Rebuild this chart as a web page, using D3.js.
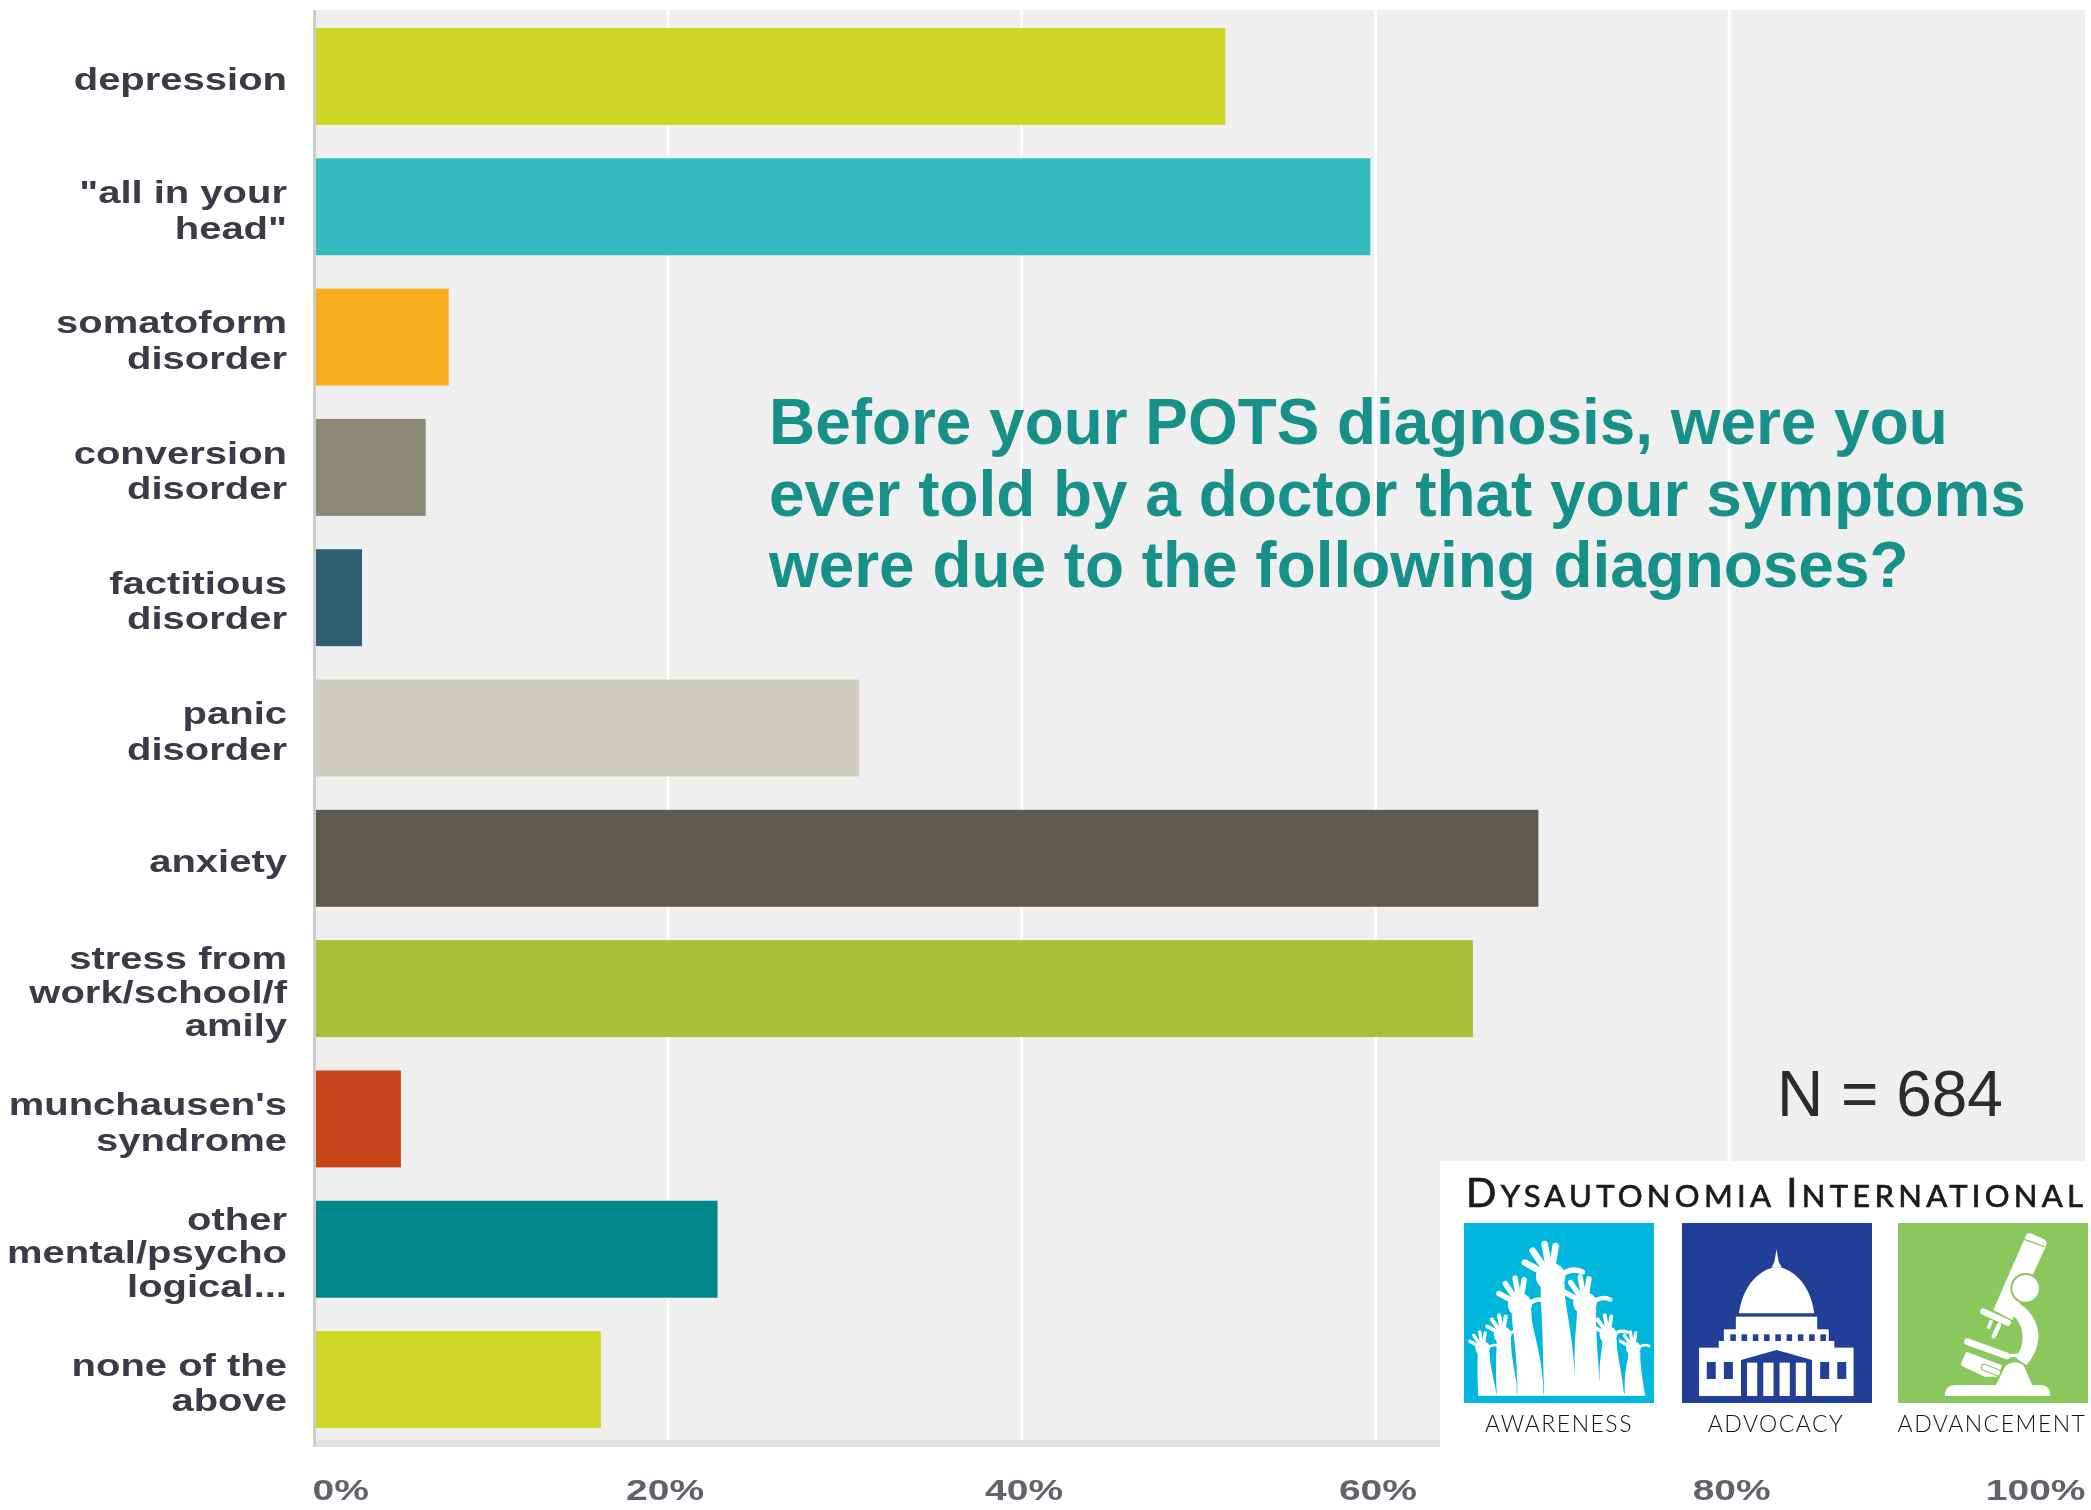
<!DOCTYPE html>
<html><head><meta charset="utf-8">
<script src="https://cdn.jsdelivr.net/npm/d3@7"></script>
<style>
html,body{margin:0;padding:0;background:#fff}
svg{display:block}
.soft{filter:blur(0.6px)}
</style></head><body>
<script>
const categories = ["depression","\"all in your\nhead\"","somatoform\ndisorder","conversion\ndisorder","factitious\ndisorder","panic\ndisorder","anxiety","stress from\nwork/school/f\namily","munchausen's\nsyndrome","other\nmental/psycho\nlogical...","none of the\nabove"];
const values = [51.4,59.6,7.5,6.2,2.6,30.7,69.1,65.4,4.8,22.7,16.1];
const colors = ["#cdd626","#33bcc0","#f6ae1c","#8b8a74","#2d5f70","#cfcdbd","#5d5b4a","#a9bf39","#c8451b","#00878a","#cfd626"];
const xTicks = [0,20,40,60,80,100];
const titleLines = ["Before your POTS diagnosis, were you","ever told by a doctor that your symptoms","were due to the following diagnoses?"];
const sampleNote = "N = 684";
const pillars = ["AWARENESS","ADVOCACY","ADVANCEMENT"];

const W=2091,H=1510;
const svg=d3.select("body").append("svg").attr("width",W).attr("height",H);
const x=d3.scaleLinear().domain([0,100]).range([316,2085]);
const y=d3.scaleBand().domain(categories).range([28,1428]).paddingInner(0.256);

// plot background
svg.append("rect").attr("x",314).attr("y",10).attr("width",W-314-6).attr("height",1430).attr("fill","#efefef");
svg.append("rect").attr("x",313).attr("y",1440).attr("width",W-313-6).attr("height",7).attr("fill","#e0e0e0");
svg.append("rect").attr("x",313).attr("y",10).attr("width",3).attr("height",1437).attr("fill","#cccccc");

// gridlines
svg.append("g").selectAll("line").data(xTicks.slice(1,5)).join("line")
  .attr("x1",d=>x(d)-2).attr("x2",d=>x(d)-2).attr("y1",10).attr("y2",1440)
  .attr("stroke","#fff").attr("stroke-width",3);

// bars
svg.append("g").selectAll("rect").data(values).join("rect")
  .attr("x",x(0)).attr("y",(d,i)=>y(categories[i]))
  .attr("width",d=>x(d)-x(0)).attr("height",y.bandwidth())
  .attr("fill",(d,i)=>colors[i]);

// category labels (glyphs stretched wide as in the source image)
const labelStretch=1.29;
const lab=svg.append("g").attr("class","soft").attr("font-family","'Liberation Sans',Arial,sans-serif")
  .attr("font-weight","700").attr("font-size",31).attr("fill","#3b3b48").attr("text-anchor","end")
  .attr("transform",`scale(${labelStretch},1)`);
categories.forEach(c=>{
  const lines=c.split("\n"),lh=lines.length===3?33.5:35.5;
  const cy=y(c)+y.bandwidth()/2+3;
  lines.forEach((l,i)=>lab.append("text").attr("x",287/labelStretch)
    .attr("y",cy+(i-(lines.length-1)/2)*lh+11).text(l));
});

// x axis
const tickStretch=1.3;
const ax=svg.append("g").attr("class","soft").attr("transform","translate(0,1447)")
  .call(d3.axisBottom(x).tickValues(xTicks).tickFormat(d=>d+"%").tickSize(0).tickPadding(32));
ax.select(".domain").remove();
ax.selectAll("text").attr("font-family","'Liberation Sans',Arial,sans-serif").attr("font-size",30)
  .attr("font-weight","700").attr("fill","#62626c").attr("transform",`scale(${tickStretch},1)`);
ax.selectAll("text").filter(d=>d===0).attr("text-anchor","start").attr("dx",-3);
ax.selectAll("text").filter(d=>d===100).attr("text-anchor","end").attr("dx",0);
ax.selectAll("text").filter(d=>d===20).attr("dx",-4);

// heading
svg.append("g").attr("font-family","'Liberation Sans',Arial,sans-serif").attr("font-weight","700")
  .attr("font-size",63.9).attr("fill","#17908a")
  .selectAll("text").data(titleLines).join("text")
  .attr("x",769).attr("y",(d,i)=>444+i*71.7).text(d=>d);

svg.append("text").attr("x",1777).attr("y",1116).attr("font-family","'Liberation Sans',Arial,sans-serif")
  .attr("font-size",64).attr("fill","#2b2b2b").text(sampleNote);

// logo
svg.append("rect").attr("x",1440).attr("y",1161).attr("width",651).attr("height",286).attr("fill","#fff");
const head=svg.append("text").attr("x",1466).attr("y",1207).attr("font-family","Lato,'Open Sans',sans-serif")
  .attr("fill","#1d1a1a").attr("stroke","#1d1a1a").attr("stroke-width",0.7)
  .attr("textLength",617).attr("lengthAdjust","spacing");
[["D",40],["YSAUTONOMIA ",31],["I",40],["NTERNATIONAL",31]].forEach(([t,s])=>head.append("tspan").attr("font-size",s).attr("xml:space","preserve").text(t));

svg.append("g").attr("font-family","Lato,'Open Sans',sans-serif").attr("font-size",23).attr("font-weight",300).attr("fill","#111")
  .attr("text-anchor","middle").selectAll("text").data(pillars).join("text")
  .attr("x",(d,i)=>[1559,1776,1992][i]).attr("y",1432).attr("letter-spacing",1.5).text(d=>d);

svg.append("rect").attr("x",1464).attr("y",1223).attr("width",190).attr("height",180).attr("fill","#00b7de");
svg.append("rect").attr("x",1682).attr("y",1223).attr("width",190).attr("height",180).attr("fill","#213f96");
svg.append("rect").attr("x",1898).attr("y",1223).attr("width",190).attr("height",180).attr("fill","#8ac75c");

// hands, local grid at 3x
const h=svg.append("g").attr("transform","translate(1460,1220) scale(0.3333)").attr("fill","#fff");
const handRows=[
 [68,385,.5,[55,525],[108,515]],
 [128,345,.6,[110,515],[170,490]],
 [520,385,.5,[495,525],[555,525]],
 [445,345,.6,[420,485],[492,520]],
 [180,255,.82,[172,490],[250,495]],
 [375,250,.8,[345,470],[420,490]],
 [272,170,1,[252,495],[345,470]]
];
const tips=[[-77,-42],[-54,-78],[-18,-98],[15,-92]];
handRows.forEach(([px,py,s,bl,br])=>{
  h.append("path").attr("d",`M${px-30*s},${py+25*s} C${px-30*s},${py+90*s} ${bl[0]-4},${py+120*s} ${bl[0]},${bl[1]} V527 H${br[0]} V${br[1]} C${br[0]-10},${py+140*s} ${px+40*s},${py+90*s} ${px+42*s},${py+20*s} Z`);
  h.append("ellipse").attr("cx",px).attr("cy",py).attr("rx",44*s).attr("ry",42*s);
  const st=h.append("g").attr("stroke","#fff").attr("fill","none").attr("stroke-linecap","round");
  tips.forEach(t=>st.append("line").attr("x1",px+t[0]*.35*s).attr("y1",py+t[1]*.35*s)
    .attr("x2",px+t[0]*s).attr("y2",py+t[1]*s).attr("stroke-width",20*s));
  st.append("path").attr("stroke-width",16*s).attr("d",`M${px+22*s},${py+5*s} Q${px+58*s},${py-32*s} ${px+95*s},${py-14*s}`);
});
h.append("rect").attr("x",55).attr("y",520).attr("width",500).attr("height",7);

// capitol, local grid
const g=svg.append("g").attr("transform","translate(1420,1140) scale(0.428,0.3333)");
const cap=g.append("g").attr("fill","#fff");
cap.append("path").attr("d","M833,328 L838,365 L845,382 L822,382 L828,365 Z");
cap.append("path").attr("d","M745,520 C752,460 775,402 825,382 L843,382 C892,402 915,460 921,520 Z");
[[738,530,190,42],[710,568,245,38],[698,603,270,24],[652,623,361,145]].forEach(r=>
  cap.append("rect").attr("x",r[0]).attr("y",r[1]).attr("width",r[2]).attr("height",r[3]));
const navy="#213f96";
d3.range(9).forEach(i=>g.append("rect").attr("x",725+i*26.3).attr("y",583).attr("width",13).attr("height",20).attr("fill",navy));
g.append("path").attr("fill",navy).attr("d","M750,660 L833,630 L916,660 L916,768 L750,768 Z");
[764,802,840,878].forEach(a=>g.append("rect").attr("x",a).attr("y",668).attr("width",24).attr("height",100).attr("fill","#fff"));
[670,710,935,975].forEach(a=>g.append("rect").attr("x",a).attr("y",666).attr("width",21).attr("height",51).attr("fill",navy));

// microscope, local grid at 3x
const m=svg.append("g").attr("transform","translate(1895,1220) scale(0.3333)");
const green="#8ac75c";
m.append("path").attr("fill","#fff").attr("d","M395,42 Q402,37 412,42 L448,58 Q459,66 452,80 L352,300 L295,270 Z");
m.append("line").attr("x1",388).attr("y1",58).attr("x2",448).attr("y2",80).attr("stroke",green).attr("stroke-width",4);
m.append("path").attr("fill","#fff").attr("d","M365,245 C410,270 440,320 428,370 C422,400 405,425 392,438 L362,412 C385,385 388,340 375,315 C368,300 360,290 350,285 Z");
m.append("circle").attr("cx",392).attr("cy",205).attr("r",43).attr("fill","#fff").attr("stroke",green).attr("stroke-width",6);
const ms=m.append("g").attr("stroke","#fff").attr("fill","none").attr("stroke-linecap","round");
ms.append("line").attr("x1",265).attr("y1",275).attr("x2",338).attr("y2",308).attr("stroke-width",19);
ms.append("line").attr("x1",288).attr("y1",305).attr("x2",281).attr("y2",321).attr("stroke-width",11);
ms.append("line").attr("x1",312).attr("y1",315).attr("x2",296).attr("y2",349).attr("stroke-width",13);
ms.append("line").attr("x1",217).attr("y1",365).attr("x2",335).attr("y2",408).attr("stroke-width",20);
ms.append("line").attr("x1",335).attr("y1",408).attr("x2",372).attr("y2",405).attr("stroke-width",10);
m.append("path").attr("fill","#fff").attr("d","M213,397 Q216,395 222,398 L322,436 L306,470 L270,470 L205,440 Q196,434 200,426 Z");
m.append("line").attr("x1",268).attr("y1",442).attr("x2",308).attr("y2",458).attr("stroke",green).attr("stroke-width",22).attr("stroke-linecap","round");
m.append("line").attr("x1",268).attr("y1",442).attr("x2",308).attr("y2",458).attr("stroke","#fff").attr("stroke-width",15).attr("stroke-linecap","round");
m.append("path").attr("fill","#fff").attr("d","M150,528 Q147,497 180,495 L303,495 L330,440 Q360,415 385,435 L412,495 L440,495 Q468,498 466,528 Z");
m.append("path").attr("fill","none").attr("stroke",green).attr("stroke-width",5).attr("d","M322,438 Q358,410 394,438");
</script>
</body></html>
